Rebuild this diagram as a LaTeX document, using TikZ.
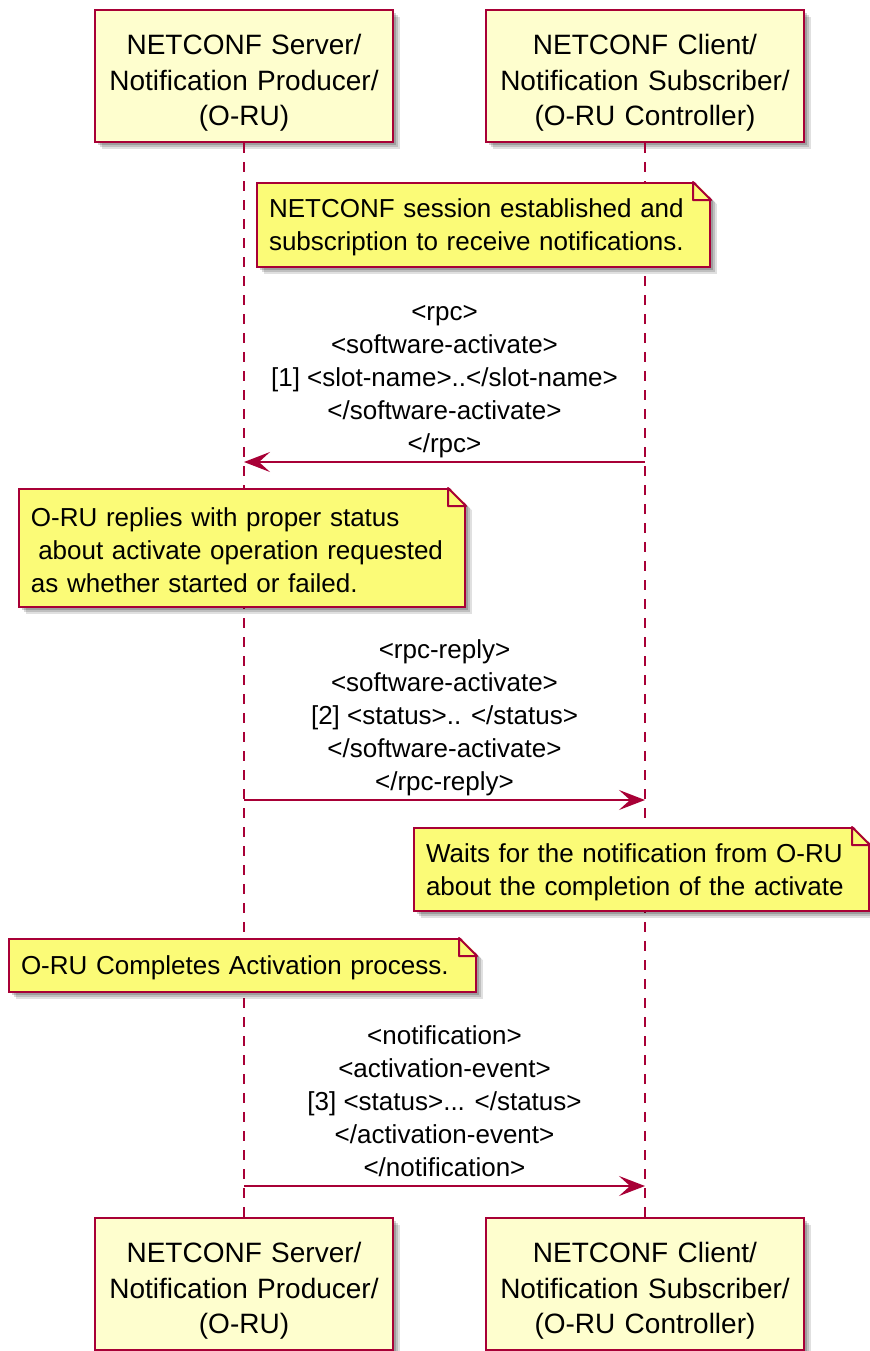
\documentclass[tikz,border=0pt]{standalone}
\usepackage{fontspec}
\setmainfont{Liberation Sans}
\usetikzlibrary{arrows.meta,shadows}
\definecolor{umlred}{HTML}{A80036}
\definecolor{partfill}{HTML}{FEFECE}
\definecolor{notefill}{HTML}{FBFB77}

\begin{document}
\begin{tikzpicture}[x=0.5pt,y=-0.5pt,
  softshadow/.style={drop shadow={shadow xshift=3.5pt,shadow yshift=-3.5pt,fill=black,opacity=.12},
    drop shadow={shadow xshift=2.5pt,shadow yshift=-2.5pt,fill=black,opacity=.15},
    drop shadow={shadow xshift=1.5pt,shadow yshift=-1.5pt,fill=black,opacity=.18}},
  part/.style={draw=umlred,fill=partfill,line width=1.2pt,align=center,minimum height=66pt,inner xsep=4.5pt,
    font=\fontsize{14}{17.75}\selectfont,execute at begin node={\rule{0pt}{17pt}},softshadow},
  note/.style={draw=umlred,fill=notefill,line width=1pt,align=left,anchor=north west,inner xsep=6pt,
    font=\fontsize{13}{16.5}\selectfont,execute at begin node={\rule{0pt}{12pt}},softshadow},
  life/.style={draw=umlred,line width=1pt,dash pattern=on 5pt off 4.5pt},
  msg/.style={draw=umlred,line width=1pt,-{Stealth[length=13pt,width=10pt,inset=5.5pt]}},
  lbl/.style={align=center,inner sep=0.5pt,font=\fontsize{13}{16.5}\selectfont,execute at end node=\strut}]
\useasboundingbox (0,0) rectangle (869,1351);
\node[part,text width=140pt] (srvtop) at (244,76) {NETCONF Server/\\Notification Producer/\\(O-RU)};
\node[part,text width=150pt] (clitop) at (645,76) {NETCONF Client/\\Notification Subscriber/\\(O-RU Controller)};
\node[part,text width=140pt] (srvbot) at (244,1284) {NETCONF Server/\\Notification Producer/\\(O-RU)};
\node[part,text width=150pt] (clibot) at (645,1284) {NETCONF Client/\\Notification Subscriber/\\(O-RU Controller)};
\path (srvtop) edge[life] (srvbot)
(clitop) edge[life] (clibot);
\node[note,text width=214.5pt,minimum height=42pt] (n1) at (256,182) {NETCONF session established and\\subscription to receive notifications.};
\node[note,text width=211pt,minimum height=59pt] (n2) at (18,488) {O-RU replies with proper status\\\hspace*{0.28em}about activate operation requested\\as whether started or failed.};
\node[note,text width=215.5pt,minimum height=41.5pt] (n3) at (413,827) {Waits for the notification from O-RU\\about the completion of the activate};
\node[note,text width=221.5pt,minimum height=26.5pt] (n4) at (8,938) {O-RU Completes Activation process.};
\foreach \n in {n1,n2,n3,n4} {
  \fill[white] ([xshift=-9pt,yshift=1pt]\n.north east) -- ([xshift=4.5pt,yshift=1pt]\n.north east) -- ([xshift=4.5pt,yshift=-12.5pt]\n.north east) -- cycle;
  \filldraw[draw=umlred,fill=notefill,line width=1pt,line join=round] ([xshift=-9pt]\n.north east) -- ([yshift=-9pt]\n.north east) -- ([xshift=-9pt,yshift=-9pt]\n.north east) -- cycle;
}
\coordinate (s1) at (244,462);
\coordinate (c1) at (645,462);
\coordinate (s2) at (244,800);
\coordinate (c2) at (645,800);
\coordinate (s3) at (244,1186);
\coordinate (c3) at (645,1186);
\path (c1) edge[msg] node[lbl,above=-1pt] {<rpc>\\<software-activate>\\{[1]} <slot-name>..</slot-name>\\</software-activate>\\</rpc>} (s1)
(s2) edge[msg] node[lbl,above=-1pt] {<rpc-reply>\\<software-activate>\\{[2]} <status>.. </status>\\</software-activate>\\</rpc-reply>} (c2)
(s3) edge[msg] node[lbl,above=-1pt] {<notification>\\<activation-event>\\{[3]} <status>... </status>\\</activation-event>\\</notification>} (c3);
\end{tikzpicture}
\end{document}
